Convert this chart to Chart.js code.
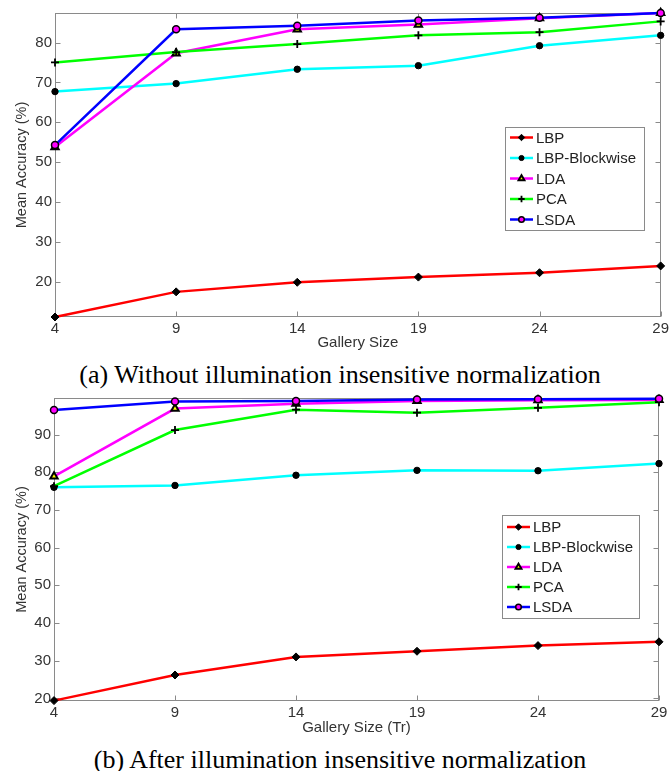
<!DOCTYPE html>
<html>
<head>
<meta charset="utf-8">
<script src="https://cdn.jsdelivr.net/npm/chart.js"></script>
<style>
  html, body { margin: 0; padding: 0; background: #fff; }
  #page { position: relative; width: 672px; height: 771px; overflow: hidden; }
  canvas { position: absolute; left: 0; }
  .caption {
    position: absolute; left: 4px; width: 672px; text-align: center;
    font-family: 'Liberation Serif', 'Times New Roman', serif;
    font-size: 26px; line-height: 30px; color: #000; white-space: nowrap;
  }
</style>
</head>
<body>
<div id="page">
  <canvas id="chart-a" width="672" height="355" style="top:0"></canvas>
  <div class="caption" style="top:360px">(a) Without illumination insensitive normalization</div>
  <canvas id="chart-b" width="672" height="355" style="top:385px"></canvas>
  <div class="caption" style="top:745px">(b) After illumination insensitive normalization</div>
</div>
<script>
const gallerySizes = ['4', '9', '14', '19', '24', '29']
const methods = ['LBP', 'LBP-Blockwise', 'LDA', 'PCA', 'LSDA']

// (a) without normalization
const lbpA = [11.2, 17.5, 19.9, 21.2, 22.3, 24.0]
const blockwiseA = [67.7, 69.7, 73.3, 74.2, 79.2, 81.8]
const ldaA = [53.8, 77.3, 83.3, 84.5, 86.1, 87.4]
const pcaA = [75.0, 77.6, 79.6, 81.8, 82.6, 85.3]
const lsdaA = [54.3, 83.3, 84.2, 85.5, 86.2, 87.4]
const yRangeA = [11.2, 87.4]

// (b) after normalization
const lbpB = [19.4, 26.2, 31.0, 32.5, 34.0, 35.0]
const blockwiseB = [76.0, 76.5, 79.2, 80.5, 80.4, 82.3]
const ldaB = [78.9, 96.9, 98.2, 98.9, 99.1, 99.2]
const pcaB = [76.3, 91.2, 96.6, 95.8, 97.1, 98.6]
const lsdaB = [96.5, 98.8, 98.9, 99.3, 99.4, 99.5]
const yRangeB = [19.3, 99.7]

const styles = [
  { color: '#ff0000', pointStyle: 'rectRot', radius: 4, fill: '#000', border: '#000', bw: 1 },
  { color: '#00ffff', pointStyle: 'circle', radius: 3.2, fill: '#000', border: '#000', bw: 1 },
  { color: '#ff00ff', pointStyle: 'triangle', radius: 4.2, fill: '#ffff00', border: '#000', bw: 2 },
  { color: '#00ff00', pointStyle: 'cross', radius: 4, fill: '#000', border: '#000', bw: 1.8 },
  { color: '#0000ff', pointStyle: 'circle', radius: 3.5, fill: '#ff00ff', border: '#000', bw: 1.5 }
]

const textColor = '#333'
const axisColor = '#8a8a8a'

// box around the axes with inward ticks on all four sides
const frame = {
  id: 'frame',
  beforeDatasetsDraw(chart) {
    const { ctx, chartArea: a, scales: { x, y } } = chart
    const l = Math.round(a.left) + 0.5, r = Math.round(a.right) - 0.5
    const t = Math.round(a.top) + 0.5, b = Math.round(a.bottom) - 0.5
    ctx.save()
    ctx.strokeStyle = axisColor
    ctx.lineWidth = 1
    ctx.strokeRect(l, t, r - l, b - t)
    ctx.beginPath()
    x.ticks.forEach((tk, i) => {
      const px = Math.round(x.getPixelForTick(i)) + 0.5
      ctx.moveTo(px, b); ctx.lineTo(px, b - 5)
      ctx.moveTo(px, t); ctx.lineTo(px, t + 5)
    })
    y.ticks.forEach(tk => {
      const py = Math.round(y.getPixelForValue(tk.value)) + 0.5
      ctx.moveTo(l, py); ctx.lineTo(l + 5, py)
      ctx.moveTo(r, py); ctx.lineTo(r - 5, py)
    })
    ctx.stroke()
    ctx.restore()
  }
}

// MATLAB-like legend box placed inside the plot
const boxLegend = {
  id: 'boxLegend',
  afterDraw(chart, args, opts) {
    const { ctx } = chart
    ctx.save()
    ctx.fillStyle = '#fff'
    ctx.fillRect(opts.x, opts.y, opts.w, opts.h)
    ctx.strokeStyle = axisColor
    ctx.lineWidth = 1
    ctx.strokeRect(opts.x + 0.5, opts.y + 0.5, opts.w, opts.h)
    ctx.font = '15px "Liberation Sans", Arial, sans-serif'
    ctx.textBaseline = 'middle'
    chart.data.datasets.forEach((ds, i) => {
      const cy = opts.y + opts.first + i * opts.rowH
      const x0 = opts.x + 5, x1 = x0 + 23
      ctx.strokeStyle = ds.borderColor
      ctx.lineWidth = 2.5
      ctx.beginPath(); ctx.moveTo(x0, cy); ctx.lineTo(x1, cy); ctx.stroke()
      ctx.fillStyle = ds.pointBackgroundColor
      ctx.strokeStyle = ds.pointBorderColor
      ctx.lineWidth = ds.pointBorderWidth
      Chart.helpers.drawPoint(ctx, {
        pointStyle: ds.pointStyle, radius: ds.pointRadius * 0.8,
        borderWidth: ds.pointBorderWidth, rotation: 0
      }, (x0 + x1) / 2, cy)
      ctx.fillStyle = '#222'
      ctx.fillText(ds.label, x1 + 3, cy + 1)
    })
    ctx.restore()
  }
}

function makeChart(id, series, yRange, xTitle, area, legend) {
  const canvas = document.getElementById(id)
  const font = { family: '"Liberation Sans", Arial, sans-serif', size: 15 }
  return new Chart(canvas.getContext('2d'), {
    type: 'line',
    data: {
      labels: gallerySizes,
      datasets: series.map((values, i) => ({
        label: methods[i],
        data: values,
        borderColor: styles[i].color,
        borderWidth: 2.5,
        pointStyle: styles[i].pointStyle,
        pointRadius: styles[i].radius,
        pointBackgroundColor: styles[i].fill,
        pointBorderColor: styles[i].border,
        pointBorderWidth: styles[i].bw,
        tension: 0,
        clip: false,
        order: series.length - i
      }))
    },
    options: {
      responsive: false,
      animation: false,
      layout: { padding: { top: area.top, right: canvas.width - area.right, left: 0, bottom: 0 } },
      plugins: {
        legend: { display: false },
        tooltip: { enabled: false },
        boxLegend: legend
      },
      scales: {
        x: {
          offset: false,
          grid: { display: false, drawTicks: false },
          border: { display: false },
          ticks: { color: textColor, font: font, padding: 3, maxRotation: 0, autoSkip: false },
          title: { display: true, text: xTitle, color: textColor, font: font, padding: { top: 0, bottom: 3 } },
          afterFit: s => { s.height = canvas.height - area.bottom }
        },
        y: {
          min: yRange[0],
          max: yRange[1],
          grid: { display: false, drawTicks: false },
          border: { display: false },
          ticks: { color: textColor, font: font, padding: 3, stepSize: 10, includeBounds: false },
          title: { display: true, text: 'Mean Accuracy (%)', color: textColor, font: { family: font.family, size: 14.5 }, padding: { top: 13, bottom: 0 } },
          afterFit: s => { s.width = area.left }
        }
      }
    },
    plugins: [frame, boxLegend]
  })
}

makeChart('chart-a', [lbpA, blockwiseA, ldaA, pcaA, lsdaA], yRangeA, 'Gallery Size',
  { left: 55, top: 13, right: 661, bottom: 317 },
  { x: 505, y: 127, w: 139, h: 103, first: 10.5, rowH: 20.5 })

makeChart('chart-b', [lbpB, blockwiseB, ldaB, pcaB, lsdaB], yRangeB, 'Gallery Size (Tr)',
  { left: 54, top: 13, right: 659, bottom: 316 },
  { x: 502, y: 130, w: 137, h: 103, first: 12, rowH: 20 })
</script>
</body>
</html>
